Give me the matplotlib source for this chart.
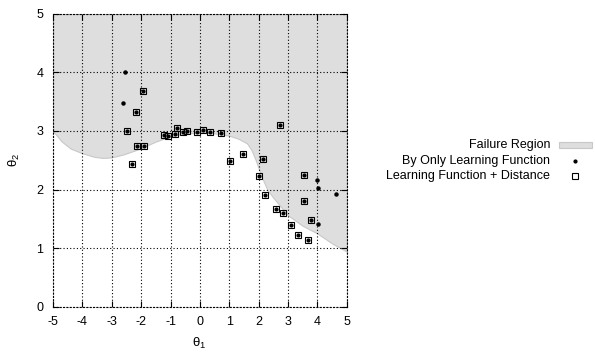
import matplotlib.pyplot as plt
from matplotlib.lines import Line2D
from matplotlib.patches import Rectangle

plt.rcParams['font.family'] = ['Liberation Sans', 'DejaVu Sans']
plt.rcParams['mathtext.fontset'] = 'custom'
plt.rcParams['mathtext.rm'] = 'Liberation Sans'
plt.rcParams['mathtext.it'] = 'Liberation Sans'

# failure region boundary
bound_x = [-5, -4.7, -4.4, -4.0, -3.6, -3.3, -3.0, -2.6, -2.2, -2.0, -1.5, -1.0, -0.5, 0,
           0.5, 1.0, 1.3, 1.6, 1.75, 1.9, 2.1, 2.3, 2.5, 2.75, 3.0, 3.5, 4.0, 4.5, 5.0]
bound_y = [3.0, 2.82, 2.70, 2.62, 2.56, 2.54, 2.55, 2.60, 2.67, 2.71, 2.82, 2.91, 2.96, 2.97,
           2.96, 2.92, 2.87, 2.79, 2.68, 2.50, 2.22, 1.99, 1.86, 1.71, 1.56, 1.38, 1.25, 1.08, 0.94]

# samples found by learning function only
dot_x = [-2.55, -2.61, 3.98, 4.01, 4.64, 4.01]
dot_y = [4.00, 3.48, 2.17, 2.03, 1.93, 1.41]

# samples found by learning function + distance
sq_x = [-2.48, -2.18, -1.94, -2.14, -1.90, -2.30, -1.22, -1.07, -0.86, -0.79, -0.58, -0.43,
        -0.11, 0.09, 0.34, 0.71, 2.73, 1.04, 1.48, 2.14, 2.01, 3.53, 2.21, 2.60, 2.82, 3.55,
        3.77, 3.09, 3.34, 3.69]
sq_y = [3.00, 3.33, 3.69, 2.74, 2.75, 2.44, 2.94, 2.91, 2.95, 3.05, 2.98, 3.00,
        2.99, 3.02, 2.98, 2.96, 3.10, 2.49, 2.60, 2.52, 2.23, 2.25, 1.90, 1.66, 1.60, 1.81,
        1.48, 1.39, 1.22, 1.14]

xticks = [-5, -4, -3, -2, -1, 0, 1, 2, 3, 4, 5]
yticks = [0, 1, 2, 3, 4, 5]

fig = plt.figure(figsize=(5.95, 3.55), dpi=100)
ax = fig.add_axes([0.089, 0.136, 0.494, 0.825])

ax.fill_between(bound_x, bound_y, 5, facecolor='#dedede', edgecolor='#c8c8c8', linewidth=0.8)

ax.plot(sq_x, sq_y, linestyle='None', marker='o', markersize=2.0, color='black', zorder=3)
ax.plot(dot_x, dot_y, linestyle='None', marker='o', markersize=2.2, color='black', zorder=3)
ax.plot(sq_x, sq_y, linestyle='None', marker='s', markersize=4.4, markerfacecolor='none',
        markeredgecolor='black', markeredgewidth=0.8, zorder=3)

ax.set_xlim(-5, 5)
ax.set_ylim(0, 5)
ax.set_xticks(xticks)
ax.set_yticks(yticks)
ax.set_xticklabels([str(t) for t in xticks])
ax.set_yticklabels([str(t) for t in yticks])
ax.tick_params(direction='in', length=4, width=0.8, top=True, right=True,
               labelsize=9, pad=7)
ax.grid(True, color='black', linestyle=(0, (1, 2)), linewidth=0.8)
for s in ax.spines.values():
    s.set_linestyle((0, (1, 2)))
    s.set_linewidth(0.8)

fig.text(0.335, 0.022, r'$\theta_1$', fontsize=9.5, ha='center')
fig.text(0.025, 0.55, r'$\theta_2$', fontsize=9.5, ha='center', va='center', rotation=90)

# legend, gnuplot style: label right-aligned, sample after it
lx = 0.925
fig.text(lx, 1 - 145 / 355, 'Failure Region', fontsize=9, ha='right', va='center')
fig.text(lx, 1 - 161 / 355, 'By Only Learning Function', fontsize=9, ha='right', va='center')
fig.text(lx, 1 - 176 / 355, 'Learning Function + Distance', fontsize=9, ha='right', va='center')
fig.add_artist(Rectangle((559 / 595, 1 - 148 / 355), 33 / 595, 6 / 355, transform=fig.transFigure,
                         facecolor='#dedede', edgecolor='#c8c8c8', linewidth=0.8))
fig.add_artist(Line2D([575 / 595], [1 - 161 / 355], transform=fig.transFigure, marker='o',
                      markersize=2.0, color='black', linestyle='None'))
fig.add_artist(Line2D([575 / 595], [1 - 176 / 355], transform=fig.transFigure, marker='s',
                      markersize=4.4, markerfacecolor='none', markeredgecolor='black',
                      markeredgewidth=0.8, linestyle='None'))

fig.savefig('out.png', dpi=100)
